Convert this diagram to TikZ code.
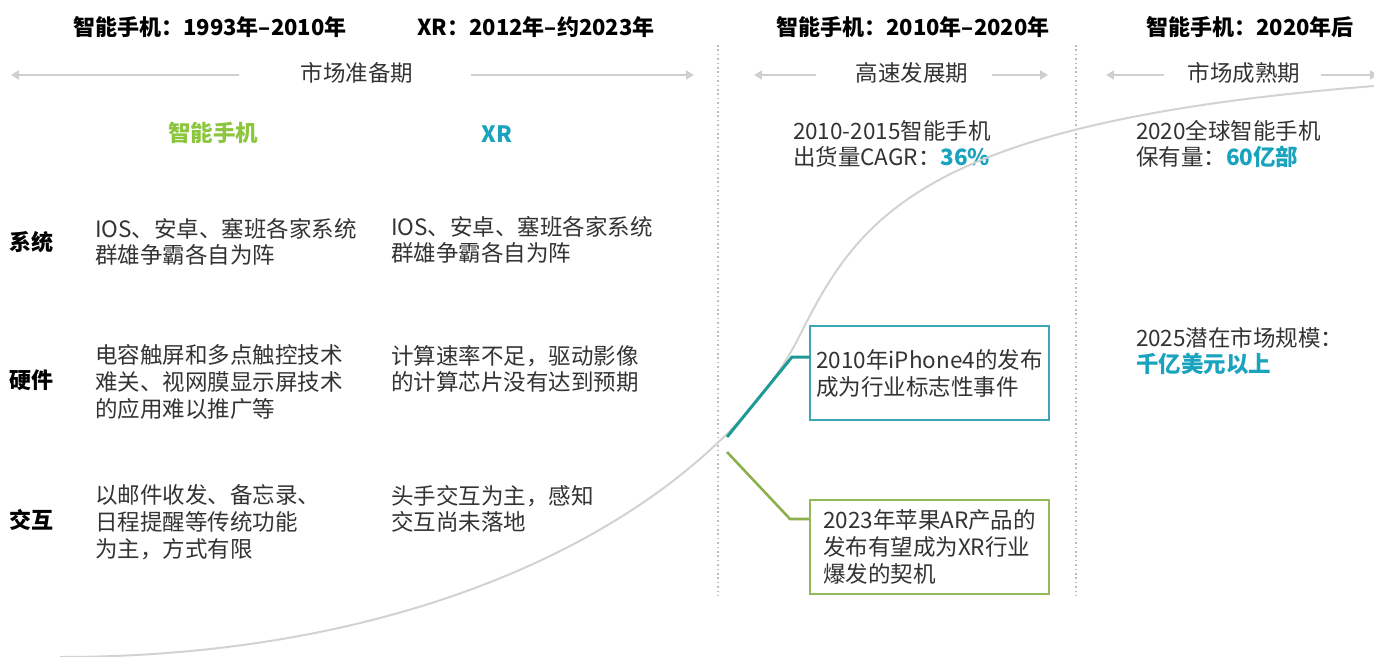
\documentclass[tikz,border=0pt]{standalone}
\usepackage{fontspec}
\setmainfont{Noto Sans CJK SC}
\usetikzlibrary{arrows.meta}
\definecolor{txt}{HTML}{333333}
\definecolor{tealtxt}{HTML}{1AA3BE}
\definecolor{tealbox}{HTML}{3DA5B5}
\definecolor{tealline}{HTML}{1E9A96}
\definecolor{greentxt}{HTML}{8CC63F}
\definecolor{greenbox}{HTML}{93B95A}
\definecolor{greenline}{HTML}{8CB04E}
\definecolor{curvegray}{HTML}{D2D2D2}
\definecolor{arrgray}{HTML}{CFCFCF}
\definecolor{dotgray}{HTML}{BDBDBD}
\begin{document}
\begin{tikzpicture}[x=0.5pt,y=-0.5pt,
  every node/.style={inner sep=0pt, outer sep=0pt},
  hdr/.style={font=\fontsize{11}{13}\selectfont\bfseries, text=black},
  phase/.style={font=\fontsize{11.25}{13}\selectfont, text=txt},
  coltitle/.style={font=\fontsize{11.25}{13}\selectfont\bfseries},
  body/.style={font=\fontsize{11.25}{13.35}\selectfont, text=txt, align=left, anchor=west},
  rowlbl/.style={font=\fontsize{11}{13}\selectfont\bfseries, text=black, anchor=west},
  phasearrow/.style={draw=arrgray, line width=1pt, -{Triangle[length=4pt,width=4.5pt]}},
  divider/.style={draw=dotgray, line width=0.8pt, dash pattern=on 0.8pt off 1.4pt},
  evbox/.style={draw, fill=white, line width=1.4pt, minimum width=119.5pt, minimum height=47pt,
    align=left, font=\fontsize{11.25}{13.5}\selectfont, text=txt},
  curve/.style={draw=curvegray, line width=1pt},
]
\useasboundingbox (0,0) rectangle (1374,657);

% headers
\node[hdr] (h1) at (210,27) {智能手机：1993年–2010年};
\node[hdr] (h2) at (536,27) {XR：2012年–约2023年};
\node[hdr] (h3) at (913,27) {智能手机：2010年–2020年};
\node[hdr] (h4) at (1250,27) {智能手机：2020年后};

% phases
\node[phase] (p1) at (357,73) {市场准备期};
\node[phase] (p2) at (912,73) {高速发展期};
\node[phase] (p3) at (1244,73) {市场成熟期};
\coordinate (p1a) at (239,75); \coordinate (p1b) at (11,75);
\coordinate (p1c) at (471,75); \coordinate (p1d) at (694,75);
\coordinate (p2a) at (816,75); \coordinate (p2b) at (754,75);
\coordinate (p2c) at (992,75); \coordinate (p2d) at (1048,75);
\coordinate (p3a) at (1164,75); \coordinate (p3b) at (1106,75);
\coordinate (p3c) at (1321,75); \coordinate (p3d) at (1378,75);
\draw[phasearrow] (p1a) -- (p1b);
\draw[phasearrow] (p1c) -- (p1d);
\draw[phasearrow] (p2a) -- (p2b);
\draw[phasearrow] (p2c) -- (p2d);
\draw[phasearrow] (p3a) -- (p3b);
\draw[phasearrow] (p3c) -- (p3d);

% dividers
\coordinate (d1t) at (718,45); \coordinate (d1b) at (718,596);
\coordinate (d2t) at (1076,45); \coordinate (d2b) at (1076,596);
\draw[divider] (d1t) -- (d1b);
\draw[divider] (d2t) -- (d2b);

% column titles
\node[coltitle, text=greentxt] (c1) at (213,133) {智能手机};
\node[coltitle, text=tealtxt] (c2) at (497,134) {XR};

% row labels
\node[rowlbl] (r1) at (10,242) {系统};
\node[rowlbl] (r2) at (10,380) {硬件};
\node[rowlbl] (r3) at (10,520) {交互};

% body texts
\node[body] (s1) at (95,242) {IOS、安卓、塞班各家系统\\群雄争霸各自为阵};
\node[body] (s2) at (391,240) {IOS、安卓、塞班各家系统\\群雄争霸各自为阵};
\node[body] (w1) at (95,382) {电容触屏和多点触控技术\\难关、视网膜显示屏技术\\的应用难以推广等};
\node[body] (w2) at (391,369) {计算速率不足，驱动影像\\的计算芯片没有达到预期};
\node[body] (i1) at (95,522) {以邮件收发、备忘录、\\日程提醒等传统功能\\为主，方式有限};
\node[body] (i2) at (391,509) {头手交互为主，感知\\交互尚未落地};

\node[body] (m1) at (793,144) {2010-2015智能手机\\出货量CAGR：{\bfseries\color{tealtxt}36\%}};
\node[body] (m2) at (1136,144) {2020全球智能手机\\保有量：{\bfseries\color{tealtxt}60亿部}};
\node[body] (m3) at (1136,351) {2025潜在市场规模：\\{\bfseries\color{tealtxt}千亿美元以上}};

% growth curve
\draw[curve] (60,657) .. controls (460,657) and (720,495) .. (800,335)
  .. controls (860,215) and (924,122) .. (1374,86);

% event boxes
\node[evbox, draw=tealbox] (b1) at (929.5,373) {2010年iPhone4的发布\\成为行业标志性事件};
\node[evbox, draw=greenbox] (b2) at (929.5,547) {2023年苹果AR产品的\\发布有望成为XR行业\\爆发的契机};

% connectors
\coordinate (tA) at (727,437); \coordinate (tB) at (792,357);
\coordinate (gA) at (727,452); \coordinate (gB) at (790,519);
\draw[tealline, line width=1.5pt] (tA) -- (tB) -- (tB -| b1.west);
\draw[greenline, line width=1.3pt] (gA) -- (gB) -- (gB -| b2.west);
\end{tikzpicture}
\end{document}
